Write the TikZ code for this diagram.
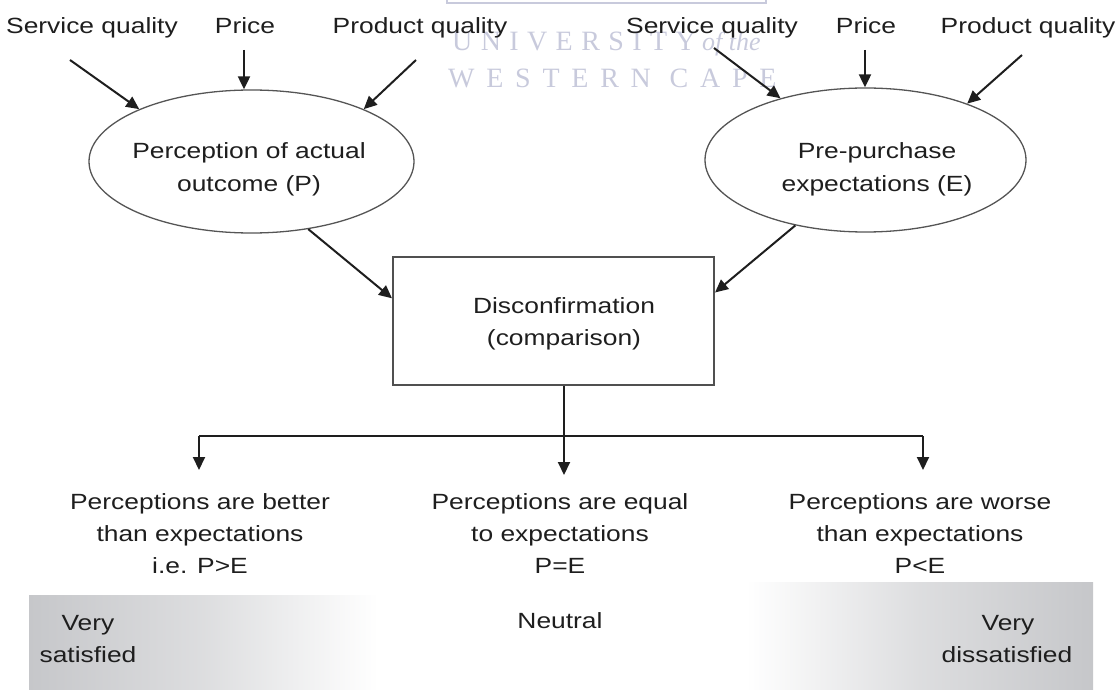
\documentclass[tikz,border=0pt]{standalone}
\usepackage{fontspec}
\setmainfont{Liberation Sans}[FakeStretch=1.2]
\newfontfamily\wmcaps{Liberation Serif}[LetterSpace=30]
\newfontfamily\wmwide{Liberation Serif}[LetterSpace=42]
\newfontfamily\wmserif{Liberation Serif}
\usetikzlibrary{arrows.meta,shapes.geometric}

\definecolor{ink}{RGB}{30,30,30}
\definecolor{ellline}{RGB}{85,85,85}
\definecolor{boxline}{RGB}{80,80,80}
\definecolor{barg}{RGB}{198,199,202}
\definecolor{wm}{RGB}{200,202,220}

\tikzset{
  lbl/.style={font=\fontsize{22}{32}\selectfont, text=ink, anchor=base, inner sep=0pt},
  wmtext/.style={text=wm, anchor=base west, inner sep=0pt},
  arr/.style={line width=2pt, draw=ink, -{Triangle[length=13pt,width=12pt]}},
  link/.style={line width=2pt, draw=ink},
  judge/.style={ellipse, draw=ellline, line width=1.3pt, inner sep=0pt},
  cmpbox/.style={rectangle, draw=boxline, line width=2pt, inner sep=0pt,
                 minimum width=321pt, minimum height=128pt}
}

\begin{document}
\begin{tikzpicture}[x=1pt,y=-1pt]
\useasboundingbox (0,0) rectangle (1120,690);

% watermark
\draw[wm, line width=2pt] (447,-10) rectangle (766,3);
\node[wmtext, font=\wmcaps\fontsize{28}{30}\selectfont] (wmA) at (452,51) {UNIVERSITY};
\node[wmtext, font=\wmserif\itshape\fontsize{26}{28}\selectfont] (wmB) at (702,51) {of the};
\node[wmtext, font=\wmwide\fontsize{28}{30}\selectfont] (wmC) at (448,88) {WESTERN CAPE};

% satisfaction scale
\shade[left color=barg, right color=white, middle color=barg!60!white] (29,595) rectangle (378,690);
\shade[left color=white, right color=barg, middle color=barg!60!white] (746,582) rectangle (1093,690);

% input factors
\node[lbl] (sqL) at (92,34) {Service quality};
\node[lbl] (prL) at (245,34) {Price};
\node[lbl] (pqL) at (420,34) {Product quality};
\node[lbl] (sqR) at (712,34) {Service quality};
\node[lbl] (prR) at (866,34) {Price};
\node[lbl] (pqR) at (1028,34) {Product quality};

% perception and expectation
\node[judge, minimum width=325pt, minimum height=143pt] (P) at (251.5,161.5) {};
\node[lbl] (P1) at (249,159) {Perception of actual};
\node[lbl] (P2) at (249,192) {outcome (P)};
\node[judge, minimum width=321pt, minimum height=144pt] (Q) at (865.5,160) {};
\node[lbl] (Q1) at (877,159) {Pre-purchase};
\node[lbl] (Q2) at (877,192) {expectations (E)};

% comparison
\node[cmpbox] (D) at (553.5,321) {};
\node[lbl] (D1) at (564,313) {Disconfirmation};
\node[lbl] (D2) at (564,345) {(comparison)};

% arrows into the ellipses
\coordinate (sqLs) at (70,60);
\coordinate (prLs) at (244,50);
\coordinate (pqLs) at (416,60);
\coordinate (sqRs) at (714,48);
\coordinate (prRs) at (865,50);
\coordinate (pqRs) at (1022,55);
\draw[arr] (sqLs) -- (P.155);
\draw[arr] (prLs) -- (prLs |- P.north);
\draw[arr] (pqLs) -- (P.25);
\draw[arr] (sqRs) -- (Q.144);
\draw[arr] (prRs) -- (prRs |- Q.north);
\draw[arr] (pqRs) -- (Q.29);

% into the comparison
\draw[arr] (P.-50) -- (D.172);
\draw[arr] (Q.223) -- (D.10);

% outcomes
\coordinate (barL) at (199,436);
\coordinate (barR) at (923,436);
\coordinate (tipL) at (199,470);
\coordinate (tipM) at (564,475);
\coordinate (tipR) at (923,470);
\draw[link] (barL) -- (barR);
\draw[arr] (barL) -- (tipL);
\draw[arr] (barR) -- (tipR);
\draw[arr] (D.south -| tipM) -- (tipM);

\node[lbl] (oL1) at (200,509) {Perceptions are better};
\node[lbl] (oL2) at (200,541) {than expectations};
\node[lbl] (oL3) at (200,573) {i.e. P>E};
\node[lbl] (oM1) at (560,509) {Perceptions are equal};
\node[lbl] (oM2) at (560,541) {to expectations};
\node[lbl] (oM3) at (560,573) {P=E};
\node[lbl] (oR1) at (920,509) {Perceptions are worse};
\node[lbl] (oR2) at (920,541) {than expectations};
\node[lbl] (oR3) at (920,573) {P<E};

\node[lbl] (vs1) at (88,630) {Very};
\node[lbl] (vs2) at (88,662) {satisfied};
\node[lbl] (neu) at (560,628) {Neutral};
\node[lbl] (vd1) at (1008,630) {Very};
\node[lbl] (vd2) at (1007,662) {dissatisfied};
\end{tikzpicture}
\end{document}
